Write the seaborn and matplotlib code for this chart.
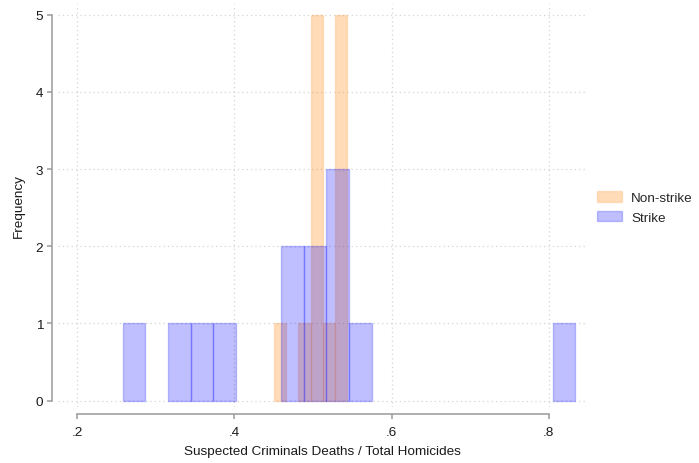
import numpy as np
import pandas as pd
import seaborn as sns
import matplotlib
matplotlib.use("Agg")
import matplotlib.pyplot as plt

# Histogram bins (start, width) and counts per group
strike_start = 0.2578
strike_width = 0.02881
strike_counts = [1, 0, 1, 1, 1, 0, 0, 2, 2, 3, 1, 0, 0, 0, 0, 0, 0, 0, 0, 1]

nonstrike_start = 0.4501
nonstrike_width = 0.01562
nonstrike_counts = [1, 0, 1, 5, 1, 5]

x_ticks = [0.2, 0.4, 0.6, 0.8]
x_ticklabels = [".2", ".4", ".6", ".8"]
y_ticks = [0, 1, 2, 3, 4, 5]

x_label = "Suspected Criminals Deaths / Total Homicides"
y_label = "Frequency"

FS = 9.7


def binned_frame(start, width, counts):
    n = len(counts)
    centers = start + width * (np.arange(n) + 0.5)
    return pd.DataFrame({"value": centers, "count": counts}), n, (start, start + width * n)


sns.set_theme(style="white")
plt.rcParams["font.family"] = ["Liberation Sans", "DejaVu Sans"]

fig = plt.figure(figsize=(6.99, 4.64), dpi=100)
ax = fig.add_axes([58 / 699, 1 - 408 / 464, (586 - 58) / 699, (408 - 5) / 464])

ns_df, ns_n, ns_range = binned_frame(nonstrike_start, nonstrike_width, nonstrike_counts)
st_df, st_n, st_range = binned_frame(strike_start, strike_width, strike_counts)

sns.histplot(data=ns_df, x="value", weights="count", bins=ns_n, binrange=ns_range, ax=ax,
             facecolor=(1.0, 0.5, 0.0, 0.28), edgecolor=(1.0, 0.5, 0.0, 0.18),
             linewidth=1.0, label="Non-strike", zorder=2)
sns.histplot(data=st_df, x="value", weights="count", bins=st_n, binrange=st_range, ax=ax,
             facecolor=(0.0, 0.0, 1.0, 0.25), edgecolor=(0.0, 0.0, 1.0, 0.22),
             linewidth=1.0, label="Strike", zorder=3)

# empty bins carry no outline
for patch in ax.patches:
    if patch.get_height() == 0:
        patch.set_visible(False)

ax.set_xlim(0.1754, 0.8475)
ax.set_ylim(-0.082, 5.139)
ax.set_xticks(x_ticks)
ax.set_xticklabels(x_ticklabels)
ax.set_yticks(y_ticks)

# dotted reference grid
ax.set_axisbelow(True)
ax.grid(True, color="#d4d4d4", linestyle=(0, (1, 2.5)), linewidth=0.9)

for side in ("top", "right"):
    ax.spines[side].set_visible(False)
ax.spines["left"].set_position(("outward", 4))
ax.spines["bottom"].set_position(("outward", 5))
ax.spines["left"].set_bounds(0, 5)
ax.spines["bottom"].set_bounds(0.2, 0.8)
for side in ("left", "bottom"):
    ax.spines[side].set_color("#9a9a9a")
    ax.spines[side].set_linewidth(1.1)

ax.tick_params(axis="both", which="major", direction="out", length=3.6, width=1.1,
               color="#9a9a9a", labelsize=FS, labelcolor="#1a1a1a")
ax.tick_params(axis="y", pad=3)
ax.tick_params(axis="x", pad=5)
ax.tick_params(left=True, bottom=True)

ax.set_xlabel(x_label, fontsize=FS, color="#1a1a1a", labelpad=5)
ax.set_ylabel(y_label, fontsize=FS, color="#1a1a1a", labelpad=8)

ax.legend(loc="center left", bbox_to_anchor=(0.995, 0.495), frameon=False, fontsize=FS,
          handlelength=1.85, handleheight=0.85, borderaxespad=0.6, labelspacing=0.45,
          handletextpad=0.7)

fig.savefig("out.png", dpi=100)
